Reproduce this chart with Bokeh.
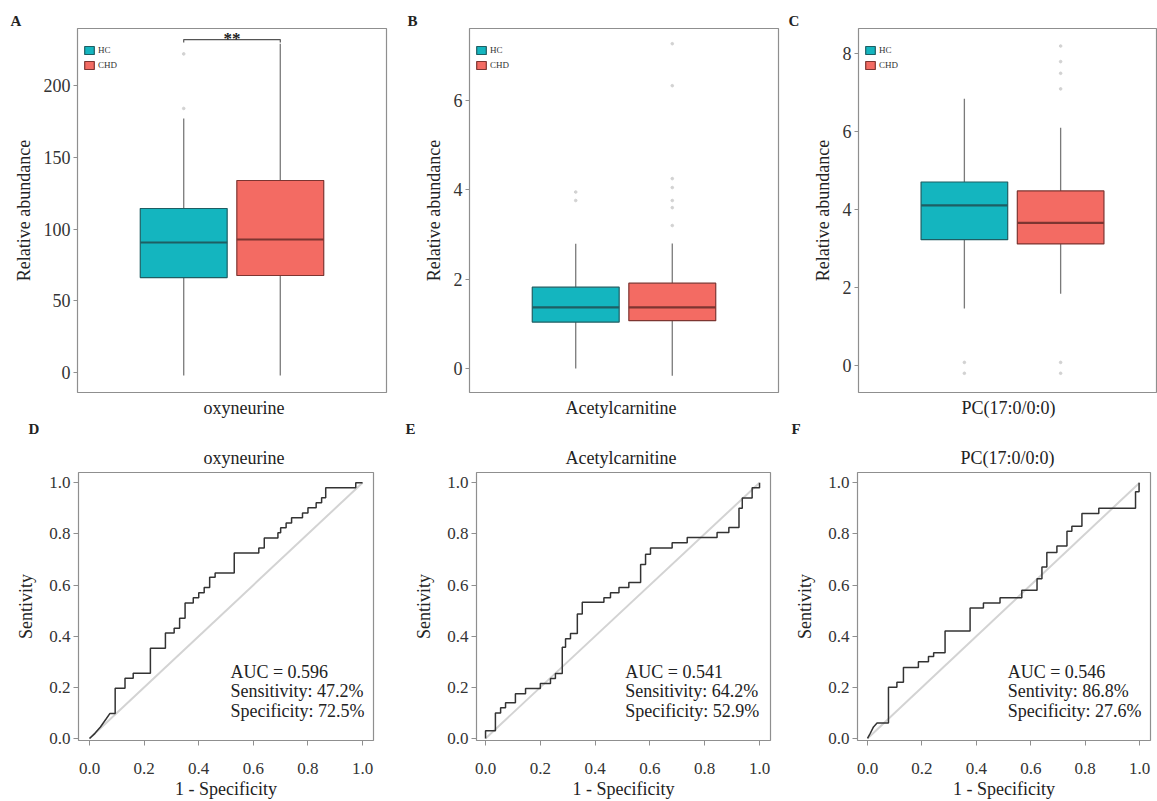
from bokeh.plotting import figure
from bokeh.layouts import column, row
from bokeh.models import (Label, FixedTicker, PrintfTickFormatter, Range1d, Legend,
                          LegendItem, ColumnDataSource, Title)
from bokeh.embed import file_html
from bokeh.resources import INLINE

SERIF = "Liberation Serif"

# ---------------- data ----------------
groups = ["HC", "CHD"]
x_pos = [0.8125, 1.1875]          # dodged group positions
box_w = 0.3375

# Panel A: oxyneurine
a_q1 = [66.2, 67.6]
a_med = [90.6, 92.7]
a_q3 = [114.3, 133.8]
a_lo = [-2.1, -2.0]
a_hi = [177.0, 229.0]
a_out_hc = [184.0, 222.0]
a_out_chd = []
a_sig_y = 232.0
a_sig_text = "**"

# Panel B: Acetylcarnitine
b_q1 = [1.04, 1.07]
b_med = [1.37, 1.37]
b_q3 = [1.82, 1.91]
b_lo = [0.0, -0.16]
b_hi = [2.79, 2.80]
b_out_hc = [3.76, 3.95]
b_out_chd = [7.27, 6.33, 4.25, 4.05, 3.76, 3.6, 3.2]

# Panel C: PC(17:0/0:0)
c_q1 = [3.23, 3.12]
c_med = [4.11, 3.66]
c_q3 = [4.71, 4.48]
c_lo = [1.46, 1.84]
c_hi = [6.85, 6.10]
c_out_hc = [0.08, -0.2]
c_out_chd = [8.2, 7.8, 7.5, 7.1, 0.08, -0.2]

metabolites = ["oxyneurine", "Acetylcarnitine", "PC(17:0/0:0)"]
letters = ["A", "B", "C", "D", "E", "F"]

# ROC curves (1 - specificity, sensitivity)
roc_d_fpr = [0, 0.02, 0.04, 0.06, 0.075, 0.094, 0.094, 0.13, 0.13, 0.16, 0.16, 0.223, 0.223,
             0.278, 0.278, 0.31, 0.31, 0.33, 0.33, 0.35, 0.35, 0.38, 0.38, 0.40, 0.40, 0.42,
             0.42, 0.44, 0.44, 0.46, 0.46, 0.53, 0.53, 0.62, 0.62, 0.64, 0.64, 0.69, 0.69,
             0.70, 0.70, 0.72, 0.72, 0.74, 0.74, 0.78, 0.78, 0.80, 0.80, 0.83, 0.83, 0.85,
             0.85, 0.865, 0.865, 0.975, 0.975, 1.0]
roc_d_tpr = [0, 0.02, 0.045, 0.075, 0.098, 0.098, 0.196, 0.196, 0.235, 0.235, 0.255, 0.255,
             0.353, 0.353, 0.412, 0.412, 0.431, 0.431, 0.47, 0.47, 0.53, 0.53, 0.55, 0.55,
             0.57, 0.57, 0.59, 0.59, 0.63, 0.63, 0.647, 0.647, 0.725, 0.725, 0.745, 0.745,
             0.784, 0.784, 0.804, 0.804, 0.824, 0.824, 0.843, 0.843, 0.863, 0.863, 0.882,
             0.882, 0.902, 0.902, 0.922, 0.922, 0.941, 0.941, 0.98, 0.98, 1.0, 1.0]

roc_e_fpr = [0, 0, 0.036, 0.036, 0.055, 0.055, 0.073, 0.073, 0.109, 0.109, 0.146, 0.146,
             0.2, 0.2, 0.237, 0.237, 0.255, 0.255, 0.28, 0.28, 0.292, 0.292, 0.31, 0.31,
             0.335, 0.335, 0.353, 0.353, 0.432, 0.432, 0.456, 0.456, 0.487, 0.487, 0.523,
             0.523, 0.566, 0.566, 0.584, 0.584, 0.602, 0.602, 0.681, 0.681, 0.736, 0.736,
             0.845, 0.845, 0.888, 0.888, 0.925, 0.925, 0.937, 0.937, 0.973, 0.973, 1.0, 1.0]
roc_e_tpr = [0, 0.03, 0.03, 0.1, 0.1, 0.12, 0.12, 0.14, 0.14, 0.175, 0.175, 0.195, 0.195,
             0.215, 0.215, 0.234, 0.234, 0.254, 0.254, 0.357, 0.357, 0.39, 0.39, 0.41, 0.41,
             0.487, 0.487, 0.533, 0.533, 0.55, 0.55, 0.57, 0.57, 0.59, 0.59, 0.61, 0.61,
             0.68, 0.68, 0.72, 0.72, 0.745, 0.745, 0.765, 0.765, 0.786, 0.786, 0.805, 0.805,
             0.825, 0.825, 0.90, 0.90, 0.94, 0.94, 0.98, 0.98, 1.0]

roc_f_fpr = [0, 0.01, 0.022, 0.035, 0.077, 0.077, 0.108, 0.108, 0.132, 0.132, 0.187, 0.187,
             0.224, 0.224, 0.243, 0.243, 0.285, 0.285, 0.377, 0.377, 0.426, 0.426, 0.487,
             0.487, 0.567, 0.567, 0.623, 0.623, 0.641, 0.641, 0.659, 0.659, 0.696, 0.696,
             0.733, 0.733, 0.751, 0.751, 0.788, 0.788, 0.85, 0.85, 0.985, 0.985, 0.998,
             0.998]
roc_f_tpr = [0, 0.02, 0.045, 0.06, 0.06, 0.2, 0.2, 0.22, 0.22, 0.277, 0.277, 0.30, 0.30,
             0.32, 0.32, 0.335, 0.335, 0.42, 0.42, 0.51, 0.51, 0.53, 0.53, 0.55, 0.55,
             0.58, 0.58, 0.625, 0.625, 0.67, 0.67, 0.727, 0.727, 0.753, 0.753, 0.81, 0.81,
             0.83, 0.83, 0.88, 0.88, 0.9, 0.9, 0.965, 0.965, 1.0]
diag = [0, 1]

auc_text = [["AUC = 0.596", "Sensitivity: 47.2%", "Specificity: 72.5%"],
            ["AUC = 0.541", "Sensitivity: 64.2%", "Specificity: 52.9%"],
            ["AUC = 0.546", "Sentivity: 86.8%", "Specificity: 27.6%"]]

fill_cols = ["#14B5BF", "#F36B63"]
line_cols = ["#1E5E63", "#7D3531"]
FRAME = "#8f8f8f"
TXT = "#222222"


def style_axes(p, tick_size="18px", label_size="18px"):
    p.xgrid.visible = False
    p.ygrid.visible = False
    p.outline_line_color = FRAME
    p.outline_line_width = 1.2
    for ax in p.axis:
        ax.axis_line_color = None
        ax.major_tick_line_color = FRAME
        ax.major_tick_in = 0
        ax.major_tick_out = 4
        ax.minor_tick_line_color = None
        ax.major_label_text_font = SERIF
        ax.major_label_text_font_size = tick_size
        ax.major_label_text_color = "#333333"
        ax.major_label_standoff = 3
        ax.axis_label_text_font = SERIF
        ax.axis_label_text_font_style = "normal"
        ax.axis_label_text_font_size = label_size
        ax.axis_label_text_color = TXT


def letter_title(text, offset, valign, standoff):
    return Title(text=text, align="left", offset=offset, text_font=SERIF,
                 text_font_size="15px", text_font_style="bold", text_color=TXT,
                 standoff=standoff, vertical_align=valign)


def side_title(p, text, offset, place, standoff, valign="middle"):
    t = Title(text=text, align="left", offset=offset, text_font=SERIF,
              text_font_size="18px", text_font_style="normal", text_color=TXT,
              standoff=standoff, vertical_align=valign)
    p.add_layout(t, place)


def box_panel(q1, med, q3, lo, hi, out_hc, out_chd, y0, y1, yticks, xr_end,
              bl, fw, br, xlabel, xlabel_off, letter, letter_off, next_letter, next_off):
    p = figure(frame_width=fw, frame_height=364, min_border_left=bl, min_border_right=br,
               min_border_top=28, min_border_bottom=46,
               x_range=Range1d(0.4, xr_end), y_range=Range1d(y0, y1),
               output_backend="svg", toolbar_location=None)
    src = ColumnDataSource(dict(x=x_pos, q1=q1, med=med, q3=q3, lo=lo, hi=hi,
                                xl=[x - box_w / 2 for x in x_pos],
                                xr=[x + box_w / 2 for x in x_pos],
                                fill=fill_cols, line=line_cols))
    p.segment(x0="x", y0="q3", x1="x", y1="hi", source=src, line_color="#7a7a7a", line_width=1.3)
    p.segment(x0="x", y0="lo", x1="x", y1="q1", source=src, line_color="#7a7a7a", line_width=1.3)
    r = p.vbar(x="x", width=box_w, bottom="q1", top="q3", source=src,
               fill_color="fill", line_color="line", line_width=1.2)
    p.segment(x0="xl", y0="med", x1="xr", y1="med", source=src, line_color="line", line_width=2.2)
    if out_hc:
        p.scatter(x=[x_pos[0]] * len(out_hc), y=out_hc, size=2.6, color="#d2d2d2")
    if out_chd:
        p.scatter(x=[x_pos[1]] * len(out_chd), y=out_chd, size=2.6, color="#d2d2d2")
    style_axes(p)
    p.xaxis.visible = False
    p.yaxis.ticker = FixedTicker(ticks=yticks)
    p.yaxis.axis_label = "Relative abundance"
    p.yaxis.axis_label_standoff = 7
    leg = Legend(items=[LegendItem(label=g, renderers=[r], index=i) for i, g in enumerate(groups)],
                 location=(6, 322), glyph_width=12, glyph_height=10, label_height=10,
                 label_text_font=SERIF, label_text_font_size="9px", label_text_color="#333333",
                 label_standoff=3, spacing=5, padding=0, margin=0,
                 border_line_color=None, background_fill_alpha=0)
    p.add_layout(leg, "center")
    # x label of this panel, then the letter of the ROC panel right below it
    side_title(p, xlabel, xlabel_off, "below", 6, valign="bottom")
    p.add_layout(letter_title(next_letter, next_off, "top", 0), "below")
    # panel letter
    p.title = letter_title(letter, letter_off, "bottom", 0)
    return p


def roc_panel(fpr, tpr, x0, x1, bl, fw, br, title, title_off, texts, tx):
    p = figure(frame_width=fw, frame_height=268, min_border_left=bl, min_border_right=br,
               min_border_top=34, min_border_bottom=61,
               x_range=Range1d(x0, x1), y_range=Range1d(-0.008, 1.04),
               output_backend="svg", toolbar_location=None)
    p.line(diag, diag, line_color="#d3d3d3", line_width=2)
    p.line(fpr, tpr, line_color="#333333", line_width=1.5)
    style_axes(p, tick_size="17px")
    ticks = [0.0, 0.2, 0.4, 0.6, 0.8, 1.0]
    for ax in p.axis:
        ax.ticker = FixedTicker(ticks=ticks)
        ax.formatter = PrintfTickFormatter(format="%.1f")
        ax.major_tick_out = 5
    p.xaxis.major_label_standoff = 17
    p.xaxis.axis_label = "1 - Specificity"
    p.xaxis.axis_label_standoff = 2
    p.yaxis.axis_label = "Sentivity"
    p.yaxis.axis_label_standoff = 10
    for t, yv in zip(texts, [0.26, 0.1875, 0.107]):
        p.add_layout(Label(x=tx, y=yv, text=t, text_font=SERIF, text_font_size="18px",
                           text_color=TXT, text_align="left", text_baseline="middle"))
    side_title(p, title, title_off, "above", 8)
    return p


pA = box_panel(a_q1, a_med, a_q3, a_lo, a_hi, a_out_hc, a_out_chd, -13.9, 239.7,
               [0, 50, 100, 150, 200], 1.6, 77, 309, 6, metabolites[0], 126, letters[0], -67,
               letters[3], -49)
# significance bracket
pA.line([x_pos[0], x_pos[0], x_pos[1], x_pos[1]], [a_sig_y - 2, a_sig_y, a_sig_y, a_sig_y - 2],
        line_color="#555555", line_width=1.2)
pA.add_layout(Label(x=(x_pos[0] + x_pos[1]) / 2, y=a_sig_y, text=a_sig_text, text_font=SERIF,
                    text_font_size="17px", text_font_style="bold", text_color=TXT,
                    text_align="center", text_baseline="alphabetic", y_offset=1))

pB = box_panel(b_q1, b_med, b_q3, b_lo, b_hi, b_out_hc, b_out_chd, -0.537, 7.61,
               [0, 2, 4, 6], 1.6, 77, 309, 4, metabolites[1], 96, letters[1], -62,
               letters[4], -64)
pC = box_panel(c_q1, c_med, c_q3, c_lo, c_hi, c_out_hc, c_out_chd, -0.693, 8.65,
               [0, 2, 4, 6, 8], 1.561, 76, 298, 1, metabolites[2], 103, letters[2], -70,
               letters[5], -67)

pD = roc_panel(roc_d_fpr, roc_d_tpr, -0.0403, 1.040, 78, 295, 19, metabolites[0], 125,
               auc_text[0], 0.516)
pE = roc_panel(roc_e_fpr, roc_e_tpr, -0.033, 1.040, 84, 294, 12, metabolites[1], 89,
               auc_text[1], 0.51)
pF = roc_panel(roc_f_fpr, roc_f_tpr, -0.0368, 1.040, 75, 293, 7, metabolites[2], 103,
               auc_text[2], 0.515)

layout = column(row(pA, pB, pC, spacing=0), row(pD, pE, pF, spacing=0), spacing=0)
open("out.html", "w").write(file_html(layout, INLINE))
